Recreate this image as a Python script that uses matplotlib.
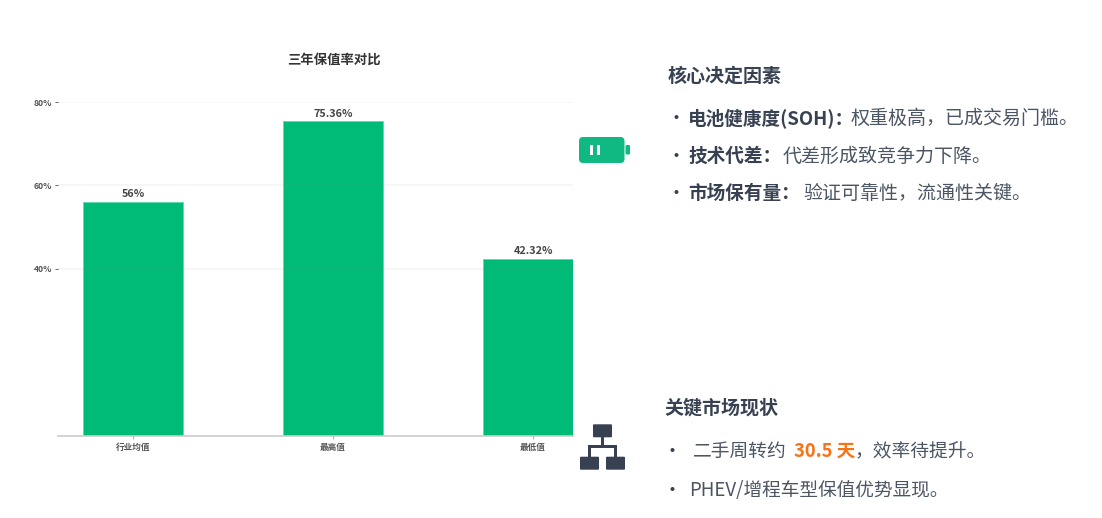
import matplotlib
matplotlib.use("Agg")
import matplotlib.pyplot as plt
from matplotlib.patches import FancyBboxPatch, Rectangle

plt.rcParams['font.family'] = ['Noto Sans CJK SC', 'DejaVu Sans']

W, H = 1102, 518
categories = ['行业均值', '最高值', '最低值']
values = [56, 75.36, 42.32]
value_labels = ['56%', '75.36%', '42.32%']
y_ticks = [40, 60, 80]
y_tick_labels = ['40%', '60%', '80%']
chart_title = '三年保值率对比'

GREEN = '#00BB77'
ICON_GREEN = '#10B981'
DARK = '#374151'
BODY = '#4B5563'
ORANGE = '#F97316'
NAVY = '#374151'

fig = plt.figure(figsize=(W / 100, H / 100), dpi=100, facecolor='white')


def rect(l, t, r, b):
    return [l / W, 1 - b / H, (r - l) / W, (b - t) / H]


ax = fig.add_axes(rect(58, 102, 573, 435.5))
ax.bar(range(3), values, width=0.5, color=GREEN, edgecolor='#5FD8AC', linewidth=0.6)
ax.set_xlim(-0.375, 2.2)
ax.set_ylim(0, 80)
ax.set_xticks(range(3))
ax.set_xticklabels(categories, fontsize=6.2, color='#555555', fontweight='bold')
ax.set_yticks(y_ticks)
ax.set_yticklabels(y_tick_labels, fontsize=6.2, color='#555555', fontweight='bold')
ax.tick_params(axis='x', length=2.5, width=0.7, color='#aaaaaa', pad=3)
ax.tick_params(axis='y', length=2.5, width=0.7, color='#666666', pad=1.5)
ax.set_axisbelow(False)
ax.grid(axis='y', color='#888888', alpha=0.09, linewidth=1.2)
for s in ['top', 'right', 'left']:
    ax.spines[s].set_visible(False)
ax.spines['bottom'].set_color('#CCCCCC')
ax.spines['bottom'].set_linewidth(1.2)
for i, (v, lab) in enumerate(zip(values, value_labels)):
    ax.annotate(lab, (i, v), xytext=(0, 2), textcoords='offset points', ha='center', va='bottom',
                fontsize=7.8, color='#444444', fontweight='bold', annotation_clip=False)

ov = fig.add_axes([0, 0, 1, 1], facecolor='none')
ov.set_xlim(0, W)
ov.set_ylim(H, 0)
ov.axis('off')


def t(x, y, s, size=13.7, color=BODY, weight='normal', ha='left'):
    ov.text(x, y, s, fontsize=size, color=color, fontweight=weight, ha=ha, va='baseline')


t(333.5, 64, chart_title, size=9.6, color='#333333', weight='bold', ha='center')

t(668, 82, '核心决定因素', size=13.7, color=DARK, weight='bold')
t(666, 124, '·', color=DARK)
t(688, 124, '电池健康度(SOH)：', size=13.4, color=DARK, weight='bold')
t(851, 124, '权重极高，已成交易门槛。')
t(666, 162, '·', color=DARK)
t(688, 162, '技术代差：', size=13.4, color=DARK, weight='bold')
t(783, 162, '代差形成致竞争力下降。')
t(666, 199, '·', color=DARK)
t(688, 199, '市场保有量：', size=13.4, color=DARK, weight='bold')
t(803, 199, '验证可靠性，流通性关键。')

t(664, 413, '关键市场现状', size=13.7, color=DARK, weight='bold')
t(663, 457, '·', color=DARK)
t(693, 457, '二手周转约', size=13.5)
t(794, 457, '30.5 天', size=13.3, color=ORANGE, weight='bold')
t(855, 457, '，效率待提升。', size=13.5)
t(663, 496, '·', color=DARK)
t(689, 496, 'PHEV/增程车型保值优势显现。', size=13.45)

# battery icon
ov.add_patch(FancyBboxPatch((582, 140), 39.5, 20, boxstyle='round,pad=3,rounding_size=4', fc=ICON_GREEN, ec='none'))
ov.add_patch(FancyBboxPatch((625.5, 145), 4.5, 9.5, boxstyle='round,pad=0,rounding_size=1.2', fc=ICON_GREEN, ec='none'))
ov.add_patch(Rectangle((589.5, 145), 3, 10, fc='white', ec='none'))
ov.add_patch(Rectangle((596.7, 145), 3, 10, fc='white', ec='none'))

# hierarchy icon
for l, tp, w_, h_ in [(593, 424.3, 19, 13), (580, 456.7, 19, 13), (606, 456.7, 19, 13)]:
    ov.add_patch(FancyBboxPatch((l + 1, tp + 1), w_ - 2, h_ - 2, boxstyle='round,pad=1,rounding_size=1', fc=NAVY, ec='none'))
for l, tp, r, b in [(601, 437, 604, 447), (588, 445, 617, 448), (588, 446, 591, 457), (614, 446, 617, 457)]:
    ov.add_patch(Rectangle((l, tp), r - l, b - tp, fc=NAVY, ec='none'))

fig.savefig('out.png', dpi=100, facecolor='white')
